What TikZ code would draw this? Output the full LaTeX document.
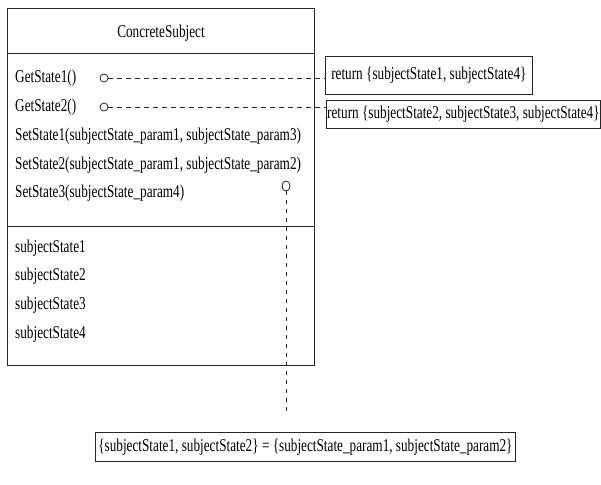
\documentclass[tikz,border=0pt]{standalone}
\usepackage{fontspec}
\usetikzlibrary{shapes.geometric}
\setmainfont{Liberation Serif}[FakeStretch=0.735]
\begin{document}
\begin{tikzpicture}[x=1pt,y=-1pt,
  lbl/.style={font=\fontsize{18}{20}\selectfont, inner sep=0pt},
  txt/.style={lbl, anchor=west},
  frame/.style={draw=black!85, line width=0.8pt},
  note/.style={lbl, draw=black!85, line width=0.8pt, anchor=north west},
  lolly/.style={draw=black!85, circle, minimum size=8pt, inner sep=0pt, line width=0.8pt},
  link/.style={draw=black!85, line width=0.8pt, dash pattern=on 5pt off 4pt}]
\useasboundingbox (0,0) rectangle (601,484);

% class box with its three compartments
\node[frame, anchor=north west, minimum width=307pt, minimum height=357pt, inner sep=0pt]
  (cls) at (7,8) {};
\draw[frame] (cls.west |- 0,53) -- (cls.east |- 0,53);
\draw[frame] (cls.west |- 0,226) -- (cls.east |- 0,226);
\node[lbl] (title) at (161,33) {ConcreteSubject};

% operations
\node[txt] (m1) at (15,78)  {GetState1()};
\node[txt] (m2) at (15,107) {GetState2()};
\node[txt] (m3) at (15,136) {SetState1(subjectState\_param1, subjectState\_param3)};
\node[txt] (m4) at (15,165) {SetState2(subjectState\_param1, subjectState\_param2)};
\node[txt] (m5) at (15,193) {SetState3(subjectState\_param4)};

% attributes
\node[txt] (a1) at (15,248) {subjectState1};
\node[txt] (a2) at (15,276) {subjectState2};
\node[txt] (a3) at (15,305) {subjectState3};
\node[txt] (a4) at (15,334) {subjectState4};

% notes
\node[note, minimum width=207pt, minimum height=38pt] (n1) at (325,56)
  {return \{subjectState1, subjectState4\}};
\node[note, minimum width=274pt, minimum height=28pt] (n2) at (326,100)
  {return \{subjectState2, subjectState3, subjectState4\}};
\node[note, minimum width=420pt, minimum height=29pt] (n3) at (95,432)
  {\{subjectState1, subjectState2\} = \{subjectState\_param1, subjectState\_param2\}};

% lollipops and dashed links
\node[lolly] (c1) at (104,78) {};
\node[lolly] (c2) at (104,107) {};
\node[draw=black!85, line width=0.8pt, ellipse, inner sep=0pt, minimum width=8pt,
  minimum height=10pt] (c3) at (286,186) {};
\draw[link] (c1.east) -- (n1.west |- c1);
\draw[link] (c2.east) -- (n2.west |- c2);
\coordinate (c3end) at (286,413);
\draw[draw=black!85, line width=0.8pt] (c3.south) -- ++(0,4);
\draw[link, dash pattern=on 4pt off 5pt] (c3.south) ++(0,9) -- (c3end);
\end{tikzpicture}
\end{document}
